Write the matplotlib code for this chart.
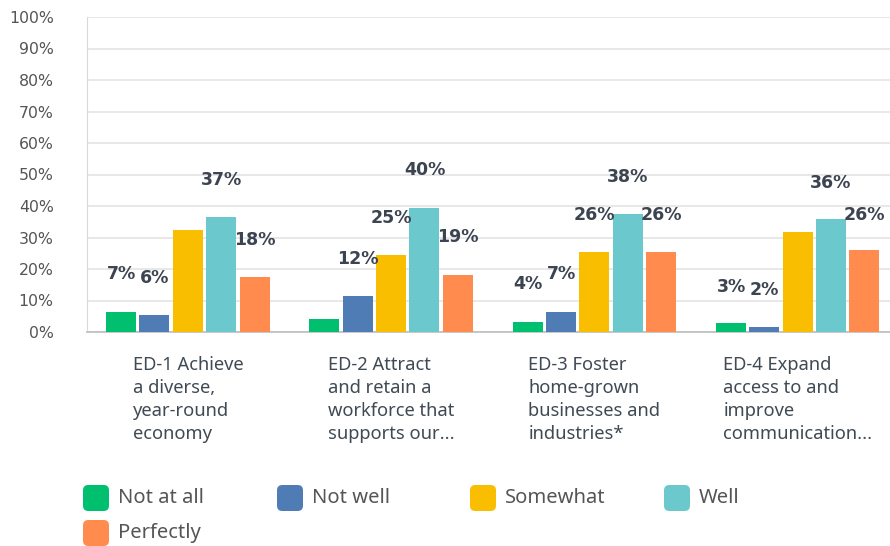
import numpy as np
import matplotlib.pyplot as plt
from matplotlib.patches import FancyBboxPatch

plt.rcParams['font.family'] = ['Noto Sans', 'DejaVu Sans']

categories = ["ED-1 Achieve\na diverse,\nyear-round\neconomy",
              "ED-2 Attract\nand retain a\nworkforce that\nsupports our...",
              "ED-3 Foster\nhome-grown\nbusinesses and\nindustries*",
              "ED-4 Expand\naccess to and\nimprove\ncommunication..."]
series = ["Not at all", "Not well", "Somewhat", "Well", "Perfectly"]
colors = ["#00BF6F", "#507CB6", "#F9BE00", "#6BC8CD", "#FF8B4F"]

# bar heights as drawn (%)
heights = [
    [6.3, 4.2, 3.3, 2.7],      # Not at all
    [5.5, 11.3, 6.4, 1.7],     # Not well
    [32.3, 24.3, 25.4, 31.8],  # Somewhat
    [36.5, 39.4, 37.5, 35.8],  # Well
    [17.5, 18.0, 25.4, 25.9],  # Perfectly
]
# value labels shown (None = hidden)
labels = [
    [7, None, 4, 3],
    [6, 12, 7, 2],
    [None, 25, 26, None],
    [37, 40, 38, 36],
    [18, 19, 26, 26],
]
yticks = np.arange(0, 101, 10)

fig = plt.figure(figsize=(8.9, 5.46), dpi=100)
ax = fig.add_axes([87 / 890, 1 - 332 / 546, 1 - 87 / 890, (332 - 17) / 546])

x = np.arange(len(categories))
width = 0.1476
step = 0.164
for i, name in enumerate(series):
    xs = x + (i - 2) * step
    ax.bar(xs, heights[i], width=width, color=colors[i], zorder=3)
    for xi, lab in zip(xs, labels[i]):
        if lab is None:
            continue
        ax.text(xi, lab + 11.3, f"{lab}%", ha='center', va='center',
                fontsize=12.5, fontweight='bold', family='DejaVu Sans',
                color='#3b4450', zorder=4)

ax.set_xlim(-0.496, 3.454)
ax.set_ylim(0, 100)
ax.set_yticks(yticks)
ax.set_yticklabels([f"{t}%" for t in yticks], fontsize=11.3,
                   color='#555555', family='DejaVu Sans')
ax.tick_params(axis='y', length=0, pad=24)
ax.tick_params(axis='x', length=0)
ax.set_xticks([])
ax.grid(axis='y', color='#e8e8e8', linewidth=1.4, zorder=0)
for s in ['top', 'right']:
    ax.spines[s].set_visible(False)
ax.spines['left'].set_color('#d9d9d9')
ax.spines['bottom'].set_color('#bdbdbd')
ax.spines['bottom'].set_linewidth(1.2)

for xi, cat in zip(x, categories):
    ax.text(xi, -7.6, cat, ha='center', va='top', multialignment='left',
            fontsize=13.2, color='#404a54', linespacing=1.36)

# legend
legend_x = [83, 277, 470, 664, 83]
legend_y = [498, 498, 498, 498, 533]
for name, c, lx, ly in zip(series, colors, legend_x, legend_y):
    box = FancyBboxPatch((lx / 890, 1 - (ly + 13) / 546), 26 / 890, 26 / 546,
                         boxstyle="round,pad=0,rounding_size=0.006",
                         transform=fig.transFigure, facecolor=c,
                         edgecolor='none', mutation_aspect=890 / 546)
    fig.add_artist(box)
    fig.text((lx + 35) / 890, 1 - ly / 546, name, ha='left', va='center',
             fontsize=14.5, color='#555555')

fig.savefig("out.png", dpi=100)
